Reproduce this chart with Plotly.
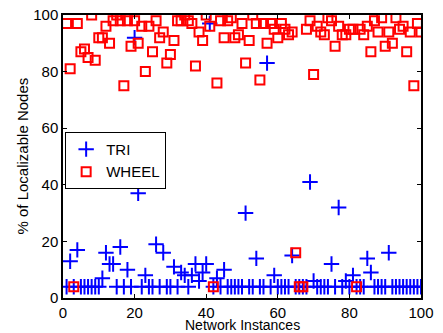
import plotly.graph_objects as go

instances = list(range(1, 101))

tri_base = 4
tri_exceptions = {
    2: 13, 4: 17, 11: 7, 12: 16, 13: 12, 14: 12, 16: 18, 18: 10, 20: 92, 21: 37,
    23: 8, 26: 19, 28: 16, 31: 11, 33: 9, 34: 8, 36: 8, 37: 12, 38: 6, 39: 9,
    40: 12, 41: 97, 43: 7, 45: 10, 51: 30, 54: 14, 57: 83, 59: 8, 64: 15, 69: 41,
    70: 6, 75: 12, 77: 32, 79: 6, 81: 8, 85: 14, 86: 9, 91: 16,
}
tri = [tri_exceptions.get(i, tri_base) for i in instances]

wheel = [
    97, 81, 4, 97, 87, 88, 85, 100, 84, 92,
    92, 96, 90, 98, 100, 98, 75, 98, 89, 98,
    90, 96, 80, 96, 87, 98, 92, 94, 83, 86,
    91, 98, 98, 100, 98, 97, 82, 94, 91, 100,
    96, 4, 76, 98, 92, 98, 99, 92, 93, 97,
    83, 91, 100, 97, 77, 97, 90, 97, 95, 92,
    97, 95, 93, 94, 16, 4, 4, 95, 98, 79,
    96, 94, 93, 99, 98, 89, 96, 93, 93, 95,
    95, 4, 95, 93, 96, 87, 98, 94, 99, 89,
    94, 90, 99, 95, 96, 87, 94, 75, 97, 94,
]

x_ticks = [0, 20, 40, 60, 80, 100]
y_ticks = [0, 20, 40, 60, 80, 100]
x_title = "Network Instances"
y_title = "% of Localizable Nodes"

FONT = "Liberation Sans, Arial, sans-serif"

fig = go.Figure()
fig.add_trace(go.Scatter(
    x=instances, y=tri, mode="markers", name="TRI",
    marker=dict(symbol="cross-thin", size=11, color="#0000ff",
                line=dict(color="#0000ff", width=2)),
))
fig.add_trace(go.Scatter(
    x=instances, y=wheel, mode="markers", name="WHEEL",
    marker=dict(symbol="square-open", size=9, color="#ff0000",
                line=dict(color="#ff0000", width=2)),
))

axis_common = dict(
    showgrid=False, zeroline=False, showline=True, linecolor="black", linewidth=1.5,
    mirror="ticks", ticks="inside", ticklen=4, tickcolor="black", tickwidth=1,
    tickfont=dict(family=FONT, size=15, color="black"), automargin=False,
    ticklabeloverflow="allow",
)

fig.update_xaxes(range=[0, 100], tickvals=x_ticks, **axis_common)
fig.update_yaxes(range=[0, 100], tickvals=y_ticks, **axis_common)

fig.update_layout(
    template="none",
    width=443, height=333,
    margin=dict(l=63, r=22, t=15, b=35, pad=0),
    paper_bgcolor="white", plot_bgcolor="white",
    font=dict(family=FONT, size=15, color="black"),
    legend=dict(x=0.006, y=0.587, xanchor="left", yanchor="top",
                bgcolor="white", bordercolor="black", borderwidth=1,
                font=dict(family=FONT, size=15, color="black"),
                itemwidth=30, tracegroupgap=0),
    showlegend=True,
    annotations=[
        dict(text=x_title, xref="paper", yref="paper", x=0.5, y=0.0, yshift=-17,
             xanchor="center", yanchor="top", showarrow=False,
             font=dict(family=FONT, size=14, color="black")),
        dict(text=y_title, xref="paper", yref="paper", x=0.0, xshift=-41, y=0.5,
             xanchor="center", yanchor="middle", textangle=-90, showarrow=False,
             font=dict(family=FONT, size=15, color="black")),
    ],
)

# remove the page's default 8px body margin so the figure sits at the window's corner
fig.write_html("out.html", config={"displayModeBar": False},
               post_script="document.body.style.margin='0';")
